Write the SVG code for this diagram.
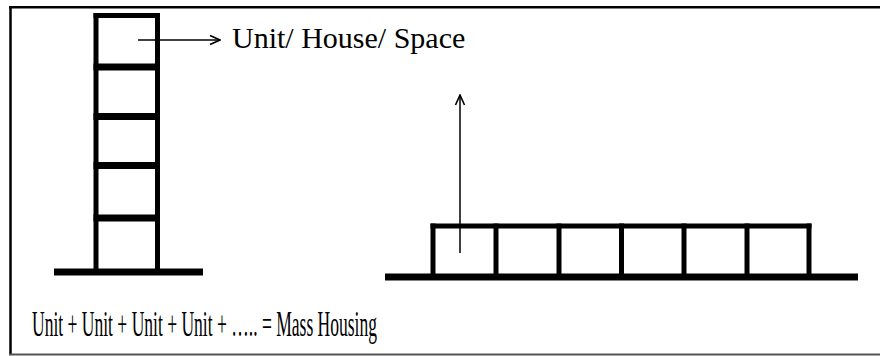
<svg xmlns="http://www.w3.org/2000/svg" width="880" height="356" viewBox="0 0 880 356">
  <style>
    .wall { stroke: #000; stroke-width: 5; fill: none; stroke-linecap: square; }
    .floor { stroke: #000; stroke-width: 7; fill: none; }
    .ground { stroke: #000; stroke-width: 7; fill: none; }
    .thin { stroke: #000; stroke-width: 1.5; fill: none; }
    .label { font-family: "Liberation Serif", "Times New Roman", serif; fill: #000; }
  </style>
  <defs>
    <marker id="arr" viewBox="0 0 12 12" refX="11" refY="6" markerWidth="12" markerHeight="12" markerUnits="userSpaceOnUse" orient="auto">
      <path d="M1,1.5 L11,6 L1,10.5" fill="none" stroke="#000" stroke-width="1.6"/>
    </marker>
  </defs>
  <rect width="880" height="356" fill="#fff"/>
  <g id="frame">
    <line x1="9" y1="7.3" x2="882" y2="7.3" stroke="#000" stroke-width="2.5"/>
    <line x1="10.5" y1="6" x2="10.5" y2="355" stroke="#000" stroke-width="2.5"/>
    <line x1="9" y1="354.5" x2="882" y2="354.5" stroke="#555" stroke-width="2"/>
  </g>
  <g id="tower">
    <line class="wall" x1="96" y1="15.5" x2="96" y2="271"/>
    <line class="wall" x1="157.5" y1="15.5" x2="157.5" y2="271"/>
    <line class="wall" x1="96" y1="15.5" x2="157.5" y2="15.5"/>
    <line class="floor" x1="93.5" y1="67" x2="160" y2="67"/>
    <line class="floor" x1="93.5" y1="116.5" x2="160" y2="116.5"/>
    <line class="floor" x1="93.5" y1="165.5" x2="160" y2="165.5"/>
    <line class="floor" x1="93.5" y1="218" x2="160" y2="218"/>
    <line class="ground" x1="54" y1="272" x2="203" y2="272"/>
  </g>
  <g id="row">
    <line class="wall" x1="433" y1="226" x2="809" y2="226"/>
    <line class="wall" x1="433" y1="226" x2="433" y2="275"/>
    <line class="wall" x1="496" y1="226" x2="496" y2="275"/>
    <line class="wall" x1="559" y1="226" x2="559" y2="275"/>
    <line class="wall" x1="621.5" y1="226" x2="621.5" y2="275"/>
    <line class="wall" x1="684" y1="226" x2="684" y2="275"/>
    <line class="wall" x1="747" y1="226" x2="747" y2="275"/>
    <line class="wall" x1="809" y1="226" x2="809" y2="275"/>
    <line class="ground" x1="385" y1="277" x2="858" y2="277"/>
  </g>
  <g id="connectors">
    <line class="thin" x1="138" y1="40" x2="220" y2="40" marker-end="url(#arr)"/>
    <line class="thin" x1="460" y1="253" x2="460" y2="95" marker-end="url(#arr)"/>
  </g>
  <g id="label-unit">
    <text class="label" x="232" y="48" font-size="30">Unit/ House/ Space</text>
  </g>
  <g id="label-mass">
    <text class="label" x="32" y="336" font-size="35" textLength="345" lengthAdjust="spacingAndGlyphs">Unit + Unit + Unit + Unit + ….. = Mass Housing</text>
  </g>
</svg>
